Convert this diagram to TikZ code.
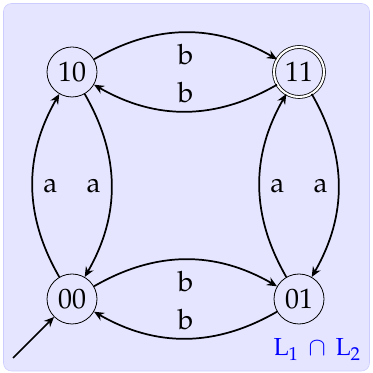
\documentclass[tikz,border=0pt]{standalone}
\usepackage[T1]{fontenc}
\usepackage{mathpazo}
\usepackage{xcolor}
\usepackage{tikz}
\usetikzlibrary{arrows.meta, positioning}

\tikzset{
  statenode/.style={circle, draw, line width=0.6pt, minimum size=37.5pt, inner sep=0pt},
  finalnode/.style={statenode, double, double distance=1.6pt},
  trans/.style={-{Stealth[length=7.5pt,width=6.5pt]}, line width=1.3pt},
  lab/.style={inner sep=0pt}
}

\begin{document}
\begin{tikzpicture}[x=0.75pt, y=0.75pt, font=\fontsize{21}{25}\selectfont]
  \useasboundingbox (0,0) rectangle (372,373);
  \draw[blue!20, fill=blue!10, rounded corners=6pt] (3.5,2) rectangle (369.5,369.5);

  % states
  \node[statenode] (q10) at (72,301) {10};
  \node[finalnode] (q11) at (299,301) {11};
  \node[statenode] (q00) at (72,74) {00};
  \node[statenode] (q01) at (299,74) {01};

  % transitions
  \draw[trans] (q10) to[bend left=30] node[lab, midway, below=8pt] {b} (q11);
  \draw[trans] (q11) to[bend left=30] node[lab, midway, above=6pt] {b} (q10);
  \draw[trans] (q00) to[bend left=30] node[lab, midway, right=7.5pt] {a} (q10);
  \draw[trans] (q10) to[bend left=30] node[lab, midway, left=7.5pt] {a} (q00);
  \draw[trans] (q01) to[bend left=30] node[lab, midway, right=7.5pt] {a} (q11);
  \draw[trans] (q11) to[bend left=30] node[lab, midway, left=7.5pt] {a} (q01);
  \draw[trans] (q00) to[bend left=30] node[lab, midway, below=8pt] {b} (q01);
  \draw[trans] (q01) to[bend left=30] node[lab, midway, above=6pt] {b} (q00);

  % initial arrow
  \coordinate (start) at (13,15);
  \draw[trans] (start) -- (q00);

  \node[anchor=base east, inner sep=0pt, text=blue, font=\fontsize{18.5}{22}\selectfont]
    (lang) at (361,17) {$\mathrm{L}_1\:\cap\:\mathrm{L}_2$};
\end{tikzpicture}
\end{document}
